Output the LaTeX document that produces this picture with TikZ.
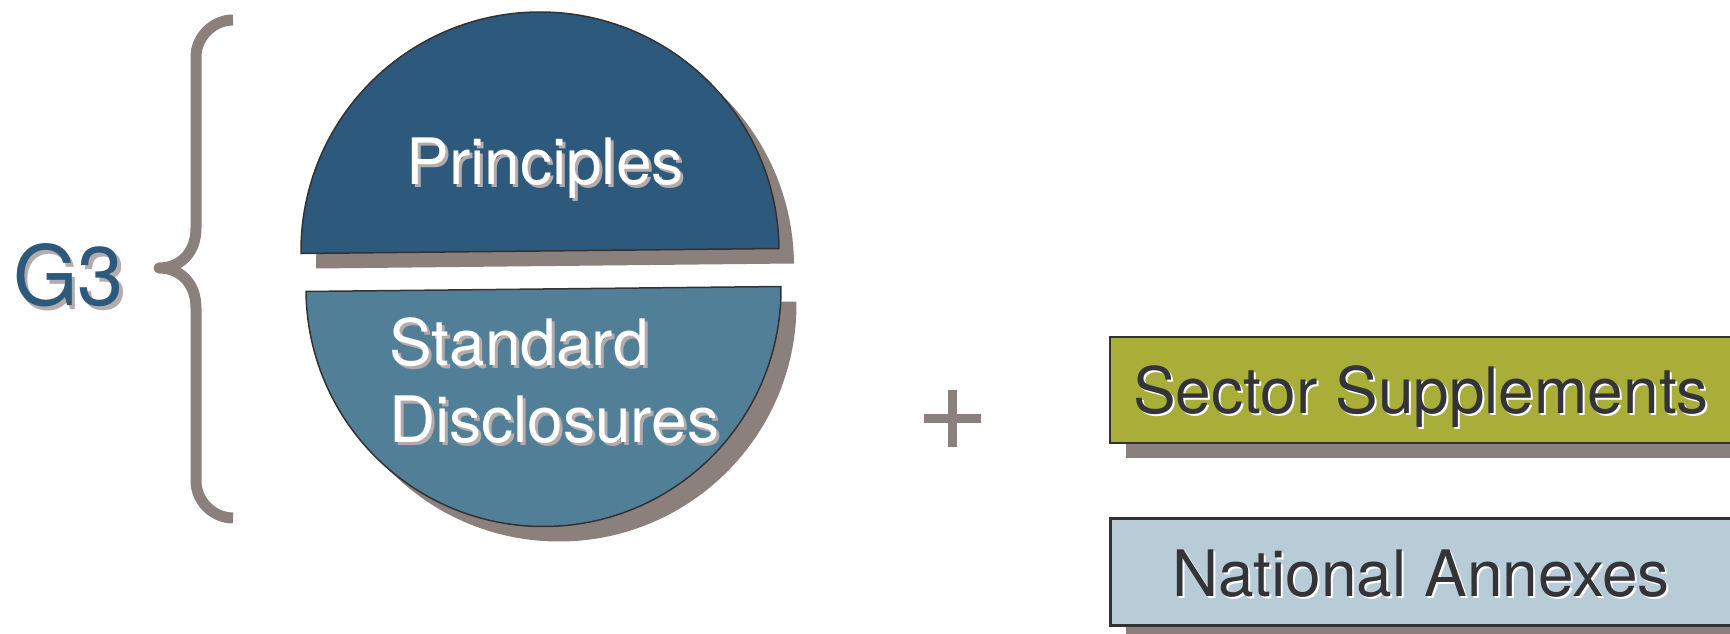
\documentclass[tikz,border=0pt]{standalone}
\usepackage{fontspec}
\setmainfont{TeX Gyre Heros}
\definecolor{darkblue}{RGB}{45,89,124}
\definecolor{midblue}{RGB}{82,127,152}
\definecolor{shadowc}{RGB}{140,128,125}
\definecolor{olive}{RGB}{168,174,56}
\definecolor{paleblue}{RGB}{183,204,215}
\definecolor{textdark}{RGB}{51,51,56}
\definecolor{txtshadow}{RGB}{180,172,172}
\definecolor{edgec}{RGB}{50,50,50}
\begin{document}
\begin{tikzpicture}[x=1pt,y=-1pt,
  bigfont/.style={font=\fontsize{64}{77}\selectfont, inner sep=0pt},
  g3font/.style={font=\fontsize{83}{90}\selectfont, inner sep=0pt},
  bracestroke/.style={draw=shadowc, line width=11pt, line join=round},
  plusstroke/.style={draw=shadowc, line width=9pt},
  halfdisc/.style={draw=edgec, line width=1.5pt},
  boxframe/.style={draw=edgec, line width=2.5pt},
]
\useasboundingbox (0,0) rectangle (1730,634);
\clip (0,0) rectangle (1730,634);

% G3 label
\node[g3font, text=txtshadow, anchor=base] (g3sh) at (72,309) {G3};
\node[g3font, text=darkblue, anchor=base] (g3) at (68.5,305) {G3};

% brace
\draw[bracestroke] (233,20) .. controls (213,20) and (196,37) .. (196,57)
  -- (196,228) .. controls (196,252) and (181,268) .. (159,268)
  .. controls (181,268) and (196,284) .. (196,308)
  -- (196,481) .. controls (196,501) and (213,518) .. (233,518);

% top half disc (Principles)
\begin{scope}[shift={(555,266)}, rotate=0.6]
  \fill[shadowc] (-239,0) arc[start angle=180, end angle=360, radius=239] -- cycle;
\end{scope}
\begin{scope}[shift={(540,251)}, rotate=0.6]
  \filldraw[halfdisc, fill=darkblue] (-239,0) arc[start angle=180, end angle=360, radius=239] -- cycle;
\end{scope}

% bottom half disc (Standard Disclosures)
\begin{scope}[shift={(559,304)}, rotate=0.6]
  \fill[shadowc] (-237.5,0) arc[start angle=180, end angle=0, radius=237.5] -- cycle;
\end{scope}
\begin{scope}[shift={(543.5,289)}, rotate=0.6]
  \filldraw[halfdisc, fill=midblue] (-237.5,0) arc[start angle=180, end angle=0, radius=237.5] -- cycle;
\end{scope}

% texts on discs
\node[bigfont, text=txtshadow, anchor=base] (prinsh) at (548,187) {Principles};
\node[bigfont, text=white, anchor=base] (prin) at (545,184) {Principles};
\node[bigfont, text=txtshadow, anchor=base west] (stdsh) at (392,368) {Standard};
\node[bigfont, text=white, anchor=base west] (std) at (389,365) {Standard};
\node[bigfont, text=txtshadow, anchor=base west] (discsh) at (392,445) {Disclosures};
\node[bigfont, text=white, anchor=base west] (disc) at (389,442) {Disclosures};

% plus sign
\draw[plusstroke] (923.5,418) -- (980.5,418);
\draw[plusstroke] (952,389.5) -- (952,446.5);

% Sector Supplements box
\fill[shadowc] (1126,352) rectangle (1790,458);
\filldraw[boxframe, fill=olive] (1110,337) rectangle (1774,443);
\node[bigfont, text=white, anchor=base] (secsh) at (1423,415) {Sector Supplements};
\node[bigfont, text=textdark, anchor=base] (sec) at (1421,413) {Sector Supplements};

% National Annexes box
\fill[shadowc] (1126,533) rectangle (1790,660);
\filldraw[boxframe, line width=3pt, fill=paleblue] (1110,518) rectangle (1774,625);
\node[bigfont, text=white, anchor=base] (natsh) at (1423,598) {National Annexes};
\node[bigfont, text=textdark, anchor=base] (nat) at (1421,596) {National Annexes};
\end{tikzpicture}
\end{document}
